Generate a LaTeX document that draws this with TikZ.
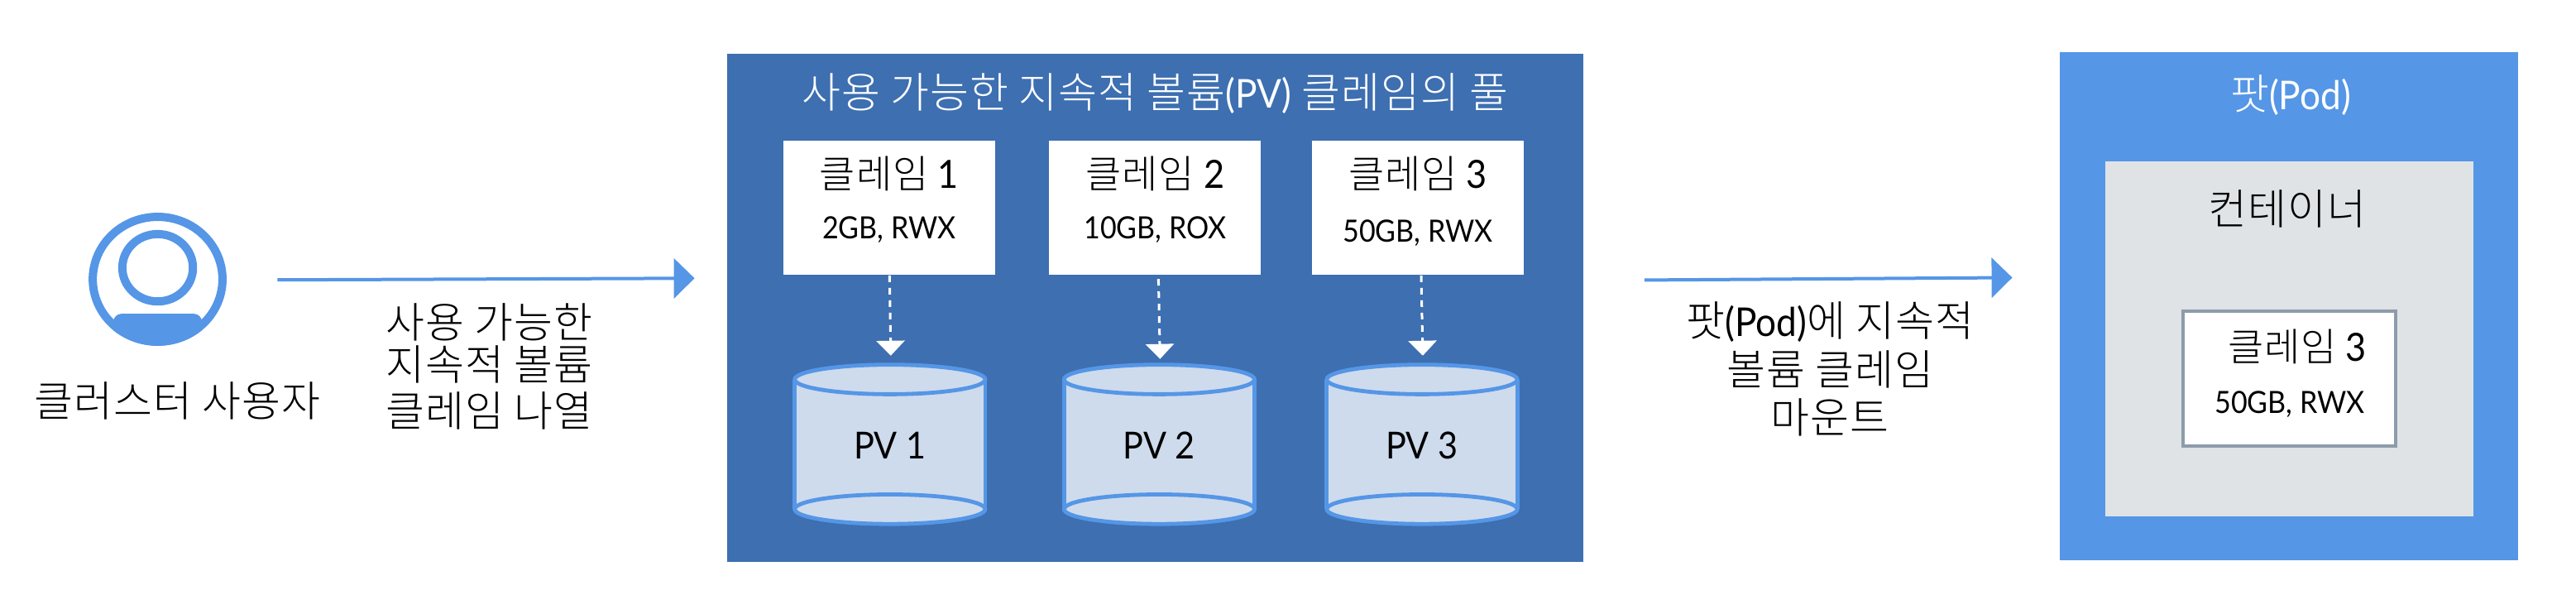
\documentclass[tikz,border=0pt]{standalone}
\usepackage{fontspec}
\setmainfont{Lato}[FakeStretch=0.92]
\newfontfamily\kr{Noto Sans CJK KR}[UprightFont={* Light}]
\usetikzlibrary{arrows.meta,calc}
\definecolor{poolblue}{HTML}{3D6FB1}
\definecolor{brightblue}{HTML}{5596E6}
\definecolor{cylfill}{HTML}{CEDBED}
\definecolor{contfill}{HTML}{DFE3E6}
\definecolor{miniedge}{HTML}{8D9CAB}
\newcommand{\K}[1]{{\kr\addfontfeatures{LetterSpace=2}#1}}
\newcommand{\Lt}[1]{{\fontsize{24}{24}\selectfont #1}}
\tikzset{
  x=0.9925pt,y=-0.9925pt,
  txt/.style={inner sep=0pt,align=center,text=black,font=\fontsize{25.5}{25.5}\selectfont},
  ctxt/.style={inner sep=0pt,align=center,text=black,font=\fontsize{23.5}{23.5}\selectfont},
  ltxt/.style={inner sep=0pt,align=center,text=black,font=\fontsize{18.5}{18.5}\selectfont},
  pvtxt/.style={inner sep=0pt,align=center,text=black,font=\fontsize{22.5}{22.5}\selectfont},
  claimbox/.style={fill=white,draw=none,inner sep=0pt,minimum width=128pt,minimum height=81pt},
  flowarrow/.style={draw=brightblue,line width=2pt,-{Triangle[length=12.5pt,width=24pt,fill=brightblue]}},
  dasharrow/.style={draw=white,line width=1.5pt,dash pattern=on 4pt off 3.5pt,-{Triangle[length=9pt,width=17pt,fill=white]}},
  cylbody/.style={fill=cylfill,draw=brightblue,line width=2.4pt},
}
\newcommand{\cyl}[3]{% name, center x, label
  \path[fill=cylfill] (#2-58,231) -- (#2-58,310) arc[start angle=180,end angle=360,x radius=58,y radius=-9] -- (#2+58,231) -- cycle;
  \draw[cylbody,fill=none] (#2-58,231) -- (#2-58,310) (#2+58,231) -- (#2+58,310);
  \draw[cylbody] (#2,310) ellipse[x radius=58,y radius=9];
  \draw[cylbody] (#2,231) ellipse[x radius=58,y radius=9];
  \node[pvtxt] (#1) at (#2,271) {#3};
}
\begin{document}
\begin{tikzpicture}
\path[use as bounding box] (0,0) rectangle (1568.8,362.2);
% user icon
\begin{scope}
  \clip (96,170) ellipse[x radius=42,y radius=40.5];
  \fill[brightblue,rounded corners=5pt] (69,191) rectangle (123,230);
\end{scope}
\draw[brightblue,line width=5pt] (96,170) ellipse[x radius=39.5,y radius=38];
\draw[brightblue,line width=5pt] (96,163) ellipse[x radius=21.5,y radius=20.5];
\node[txt] (user) at (108,244) {\K{클러스터 사용자}};
% first arrow
\coordinate (a1s) at (169,170.4);
\coordinate (a1e) at (423,169.4);
\draw[flowarrow] (a1s) -- (a1e);
\node[txt] (t1a) at (298,196) {\K{사용 가능한}};
\node[txt] (t1b) at (298,222) {\K{지속적 볼륨}};
\node[txt] (t1c) at (298,250) {\K{클레임 나열}};
% pool
\node[fill=poolblue,inner sep=0pt,minimum width=517.6pt,minimum height=306.8pt] (pool) at (703.5,187.3) {};
\node[txt,text=white] (pooltitle) at (703.5,57) {\K{사용 가능한 지속적 볼륨}\Lt{(PV)} \K{클레임의 풀}};
% claims
\node[claimbox] (c1) at (541.5,126.5) {};
\node[claimbox] (c2) at (703.5,126.5) {};
\node[claimbox] (c3) at (863.5,126.5) {};
\node[ctxt] at (541.5,105.5) {\K{클레임} 1};
\node[ltxt] at (541.5,140) {2GB, RWX};
\node[ctxt] at (703.5,105.5) {\K{클레임} 2};
\node[ltxt] at (703.5,140) {10GB, ROX};
\node[ctxt] at (863.5,105.5) {\K{클레임} 3};
\node[ltxt] at (863.5,142) {50GB, RWX};
% cylinders
\cyl{pv1}{542}{PV 1}
\cyl{pv2}{706}{PV 2}
\cyl{pv3}{866}{PV 3}
% dashed
\coordinate (d1) at (542.5,216.5);
\coordinate (d2) at (706.5,218.5);
\coordinate (d3) at (866.5,216.5);
\draw[dasharrow] (541.7,167.7) -- (d1);
\draw[dasharrow] (705.5,169.8) -- (d2);
\draw[dasharrow] (865.5,167.7) -- (d3);
% second arrow
\coordinate (a2s) at (1001.5,170.5);
\coordinate (a2e) at (1225.5,169);
\draw[flowarrow] (a2s) -- (a2e);
\node[txt] (t2a) at (1114.5,196) {\K{팟}\Lt{(Pod)}\K{에 지속적}};
\node[txt] (t2b) at (1114.5,225) {\K{볼륨 클레임}};
\node[txt] (t2c) at (1114.5,254) {\K{마운트}};
% pod
\node[fill=brightblue,inner sep=0pt,minimum width=277pt,minimum height=307pt] (pod) at (1394,186.3) {};
\node[txt,text=white] (podtitle) at (1395,58) {\K{팟}\Lt{(Pod)}};
\node[fill=contfill,inner sep=0pt,minimum width=222.5pt,minimum height=214.5pt] (cont) at (1394,206.2) {};
\node[txt] (conttitle) at (1393,127) {\K{컨테이너}};
\node[fill=white,draw=miniedge,line width=2pt,inner sep=0pt,minimum width=128.5pt,minimum height=81.5pt] (mini) at (1394.2,230.5) {};
\node[ctxt] at (1399,211) {\K{클레임} 3};
\node[ltxt] at (1394.5,246) {50GB, RWX};
\end{tikzpicture}
\end{document}
